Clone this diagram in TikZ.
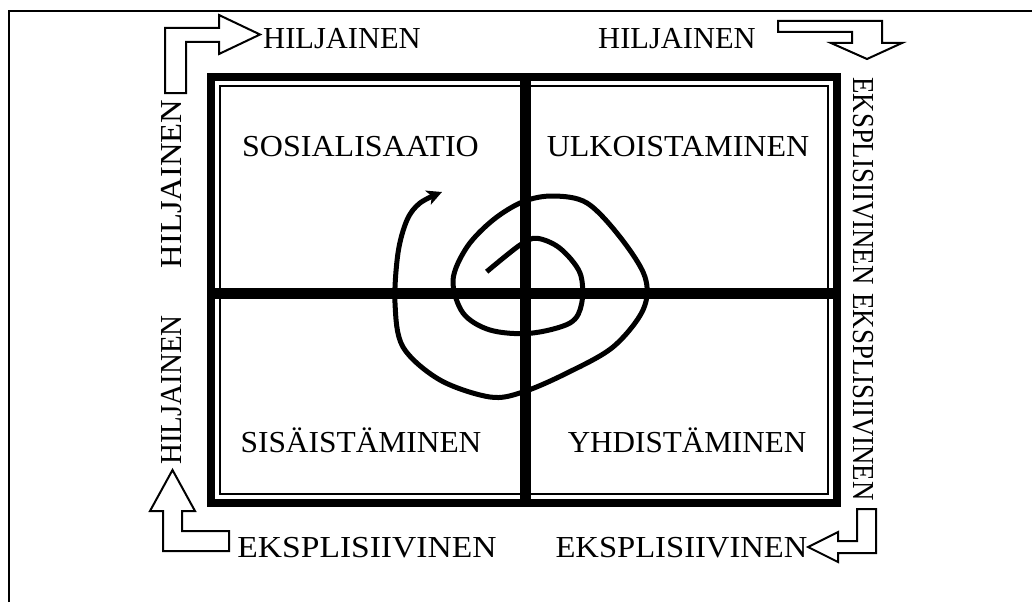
\documentclass[tikz,border=0pt]{standalone}
\usepackage{fontspec}
\setmainfont{Liberation Serif}
\usetikzlibrary{arrows.meta}
\tikzset{
  lbl/.style={font=\fontsize{30.5}{32}\selectfont, inner sep=0pt},
  blockarrow/.style={draw=black, line width=2pt, fill=white, line join=miter},
  thickframe/.style={line width=8pt},
  thinframe/.style={line width=2pt},
  crossline/.style={line width=11pt},
  spiralline/.style={line width=5pt, line cap=butt}
}
\begin{document}
\begin{tikzpicture}[x=1pt,y=-1pt]
\useasboundingbox (0,0) rectangle (1032,602);
% outer page frame
\draw[line width=2pt] (9,602) -- (9,11) -- (1032,11);
% main box
\draw[thickframe] (211,77) rectangle (837,503);
\draw[thinframe] (220,86) rectangle (828,494);
% cross
\draw[crossline] (525.5,77) -- (525.5,503);
\draw[crossline] (211,293) -- (837,293);
% spiral
\draw[spiralline, -{Stealth[length=15pt,width=15pt,inset=4pt]}] plot[smooth, tension=0.55] coordinates {
 (486.7,271.7) (520,245) (537,238.3) (560,248.3) (580,273) (581.7,303.3) (570,323)
 (530,333.3) (490,330) (463,313) (453,280) (467,247) (493,220) (523,201.7) (553,196)
 (587,203) (620,237) (645,277) (643,310) (613,347) (567,373) (523,392) (490,397)
 (440,380) (403,347) (395,303) (398,253) (407,220) (420,203) (442,192)};
% block arrows
\draw[blockarrow] (165,93) -- (165,28) -- (219,28) -- (219,15) -- (260,34.5) -- (219,54) -- (219,42) -- (186,42) -- (186,93) -- cycle;
\draw[blockarrow] (778,21) -- (882,21) -- (882,43) -- (902,43) -- (867,59) -- (831,43) -- (852,43) -- (852,32) -- (778,32) -- cycle;
\draw[blockarrow] (857,509) -- (876,509) -- (876,553) -- (838,553) -- (838,562) -- (808,547) -- (838,532) -- (838,541) -- (857,541) -- cycle;
\draw[blockarrow] (163,511) -- (150,511) -- (172.5,470) -- (195,511) -- (182,511) -- (182,531) -- (229,531) -- (229,551) -- (163,551) -- cycle;
% labels
\node[lbl] (htl) at (342,39) {HILJAINEN};
\node[lbl] (htr) at (677,39) {HILJAINEN};
\node[lbl] (sos) at (360.5,147) {\scalebox{1.05}[1]{SOSIALISAATIO}};
\node[lbl] (ulk) at (678,147) {\scalebox{1.05}[1]{ULKOISTAMINEN}};
\node[lbl] (sis) at (361,440) {\scalebox{1.03}[1]{SISÄISTÄMINEN}};
\node[lbl] (yhd) at (687,440) {\scalebox{1.02}[1]{YHDISTÄMINEN}};
\node[lbl] (ebl) at (367,548) {\scalebox{1.1}[1]{EKSPLISIIVINEN}};
\node[lbl] (ebr) at (681.5,548) {\scalebox{1.07}[1]{EKSPLISIIVINEN}};
\node[lbl, rotate=90] (hl1) at (172,184) {\scalebox{1.07}[1]{HILJAINEN}};
\node[lbl, rotate=90] (hl2) at (172,390) {\scalebox{0.95}[1]{HILJAINEN}};
\node[lbl, rotate=-90] (er1) at (863,181) {\scalebox{0.88}[1]{EKSPLISIIVINEN}};
\node[lbl, rotate=-90] (er2) at (863,397) {\scalebox{0.88}[1]{EKSPLISIIVINEN}};
\end{tikzpicture}
\end{document}
